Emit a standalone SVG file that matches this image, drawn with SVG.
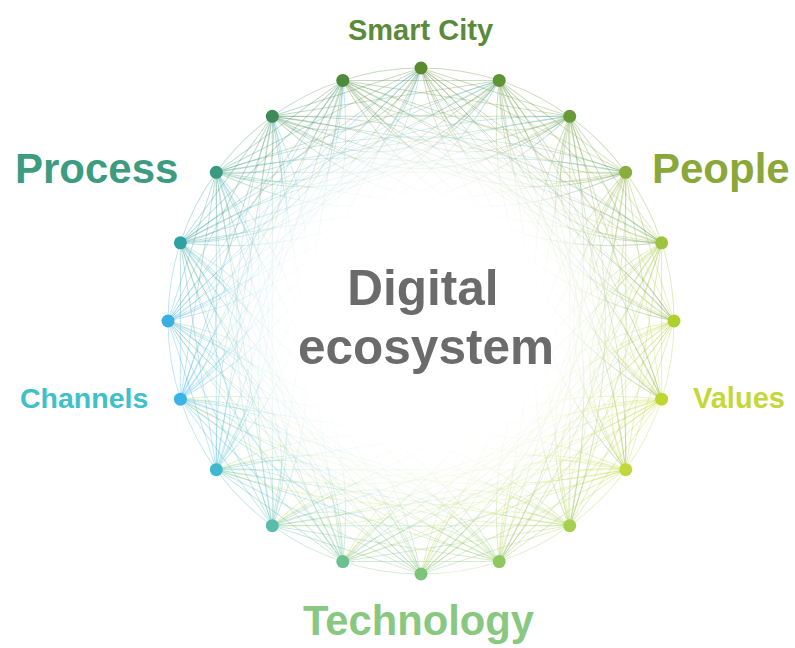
<svg xmlns="http://www.w3.org/2000/svg" xmlns:xlink="http://www.w3.org/1999/xlink" width="795" height="648" viewBox="0 0 795 648">
  <style>
    .lbl { font-family: "Liberation Sans", Arial, sans-serif; font-weight: bold; }
    .mesh { fill: none; stroke-width: 1; stroke-opacity: 0.32; }
    .dot { stroke: none; }
  </style>
  <defs>
    <!-- half-chords from the top point to the midpoints of its chords (k = ±2..±7) -->
    <path id="spokes" d="M421 68L495.36 92.16M421 68L523.34 120.14M421 68L541.31 155.41M421 68L547.5 194.5M421 68L541.31 233.59M421 68L523.34 268.85M421 68L346.64 92.16M421 68L318.66 120.14M421 68L300.69 155.41M421 68L294.5 194.5M421 68L300.69 233.59M421 68L318.66 268.85"/>
    <!-- rim arc to the next point and curved links to points 2..7 -->
    <path id="arcs" d="M421 68A253 253 0 0 1 499.2 80.4M421 68Q473.53 159.32 569.7 116.3M421 68Q475.48 214.08 625.7 172.3M421 68Q479.78 240.1 661.6 242.8M421 68Q463.43 278.57 674 321M421 68Q598.98 191.69 661.6 399.2M421 68Q599.2 230.2 625.7 469.7"/>
    <g id="fan">
      <use xlink:href="#spokes"/>
      <use xlink:href="#arcs"/>
    </g>
    <radialGradient id="fade" cx="421" cy="321" r="240" gradientUnits="userSpaceOnUse">
      <stop offset="0" stop-color="#fff" stop-opacity="1"/>
      <stop offset="0.5" stop-color="#fff" stop-opacity="1"/>
      <stop offset="0.7" stop-color="#fff" stop-opacity="0.7"/>
      <stop offset="0.85" stop-color="#fff" stop-opacity="0.25"/>
      <stop offset="1" stop-color="#fff" stop-opacity="0"/>
    </radialGradient>
  </defs>

  <rect width="795" height="648" fill="#fff"/>

  <!-- connector mesh: one fan per point, rotated round the centre -->
  <g id="connectors" class="mesh">
    <use xlink:href="#fan" stroke="#5a8a30"/>
    <use xlink:href="#fan" stroke="#5e9434" transform="rotate(18 421 321)"/>
    <use xlink:href="#fan" stroke="#6a9a38" transform="rotate(36 421 321)"/>
    <use xlink:href="#fan" stroke="#8aae3c" transform="rotate(54 421 321)"/>
    <use xlink:href="#fan" stroke="#9cc43c" transform="rotate(72 421 321)"/>
    <use xlink:href="#fan" stroke="#b0d030" transform="rotate(90 421 321)"/>
    <use xlink:href="#fan" stroke="#c0d630" transform="rotate(108 421 321)"/>
    <use xlink:href="#fan" stroke="#c0d83a" transform="rotate(126 421 321)"/>
    <use xlink:href="#fan" stroke="#a8d050" transform="rotate(144 421 321)"/>
    <use xlink:href="#fan" stroke="#90c860" transform="rotate(162 421 321)"/>
    <use xlink:href="#fan" stroke="#7cc47c" transform="rotate(180 421 321)"/>
    <use xlink:href="#fan" stroke="#6cc090" transform="rotate(198 421 321)"/>
    <use xlink:href="#fan" stroke="#5abcaa" transform="rotate(216 421 321)"/>
    <use xlink:href="#fan" stroke="#40b8d0" transform="rotate(234 421 321)"/>
    <use xlink:href="#fan" stroke="#3ab4e6" transform="rotate(252 421 321)"/>
    <use xlink:href="#fan" stroke="#3aaee0" transform="rotate(270 421 321)"/>
    <use xlink:href="#fan" stroke="#30a0a0" transform="rotate(288 421 321)"/>
    <use xlink:href="#fan" stroke="#3a9a80" transform="rotate(306 421 321)"/>
    <use xlink:href="#fan" stroke="#3e8a58" transform="rotate(324 421 321)"/>
    <use xlink:href="#fan" stroke="#4e8a3c" transform="rotate(342 421 321)"/>
  </g>

  <!-- soft white centre -->
  <circle cx="421" cy="321" r="240" fill="url(#fade)"/>

  <!-- points on the ring -->
  <g id="n0"><circle class="dot" cx="421" cy="68" r="6.5" fill="#5a8a30"/></g>
  <g id="n1"><circle class="dot" cx="499.2" cy="80.4" r="6.5" fill="#5e9434"/></g>
  <g id="n2"><circle class="dot" cx="569.7" cy="116.3" r="6.5" fill="#6a9a38"/></g>
  <g id="n3"><circle class="dot" cx="625.7" cy="172.3" r="6.5" fill="#8aae3c"/></g>
  <g id="n4"><circle class="dot" cx="661.6" cy="242.8" r="6.5" fill="#9cc43c"/></g>
  <g id="n5"><circle class="dot" cx="674" cy="321" r="6.5" fill="#b0d030"/></g>
  <g id="n6"><circle class="dot" cx="661.6" cy="399.2" r="6.5" fill="#c0d630"/></g>
  <g id="n7"><circle class="dot" cx="625.7" cy="469.7" r="6.5" fill="#c0d83a"/></g>
  <g id="n8"><circle class="dot" cx="569.7" cy="525.7" r="6.5" fill="#a8d050"/></g>
  <g id="n9"><circle class="dot" cx="499.2" cy="561.6" r="6.5" fill="#90c860"/></g>
  <g id="n10"><circle class="dot" cx="421" cy="574" r="6.5" fill="#7cc47c"/></g>
  <g id="n11"><circle class="dot" cx="342.8" cy="561.6" r="6.5" fill="#6cc090"/></g>
  <g id="n12"><circle class="dot" cx="272.3" cy="525.7" r="6.5" fill="#5abcaa"/></g>
  <g id="n13"><circle class="dot" cx="216.3" cy="469.7" r="6.5" fill="#40b8d0"/></g>
  <g id="n14"><circle class="dot" cx="180.4" cy="399.2" r="6.5" fill="#3ab4e6"/></g>
  <g id="n15"><circle class="dot" cx="168" cy="321" r="6.5" fill="#3aaee0"/></g>
  <g id="n16"><circle class="dot" cx="180.4" cy="242.8" r="6.5" fill="#30a0a0"/></g>
  <g id="n17"><circle class="dot" cx="216.3" cy="172.3" r="6.5" fill="#3a9a80"/></g>
  <g id="n18"><circle class="dot" cx="272.3" cy="116.3" r="6.5" fill="#3e8a58"/></g>
  <g id="n19"><circle class="dot" cx="342.8" cy="80.4" r="6.5" fill="#4e8a3c"/></g>

  <!-- labels -->
  <g id="centre-title" class="lbl" fill="#6b6b6b" font-size="49.5" text-anchor="middle">
    <text x="423" y="305">Digital</text>
    <text x="426" y="364">ecosystem</text>
  </g>
  <g id="smart-city"><text class="lbl" x="420.5" y="40" font-size="29" fill="#5a8a3a" text-anchor="middle">Smart City</text></g>
  <g id="process"><text class="lbl" x="15" y="183" font-size="42" fill="#3d9c80">Process</text></g>
  <g id="people"><text class="lbl" x="652" y="183" font-size="42" fill="#8aa83a">People</text></g>
  <g id="channels"><text class="lbl" x="20" y="408" font-size="28.5" fill="#40c0c8">Channels</text></g>
  <g id="values"><text class="lbl" x="693" y="408" font-size="29" fill="#c4d83a">Values</text></g>
  <g id="technology"><text class="lbl" x="303" y="635" font-size="41.7" fill="#88c880">Technology</text></g>
</svg>
